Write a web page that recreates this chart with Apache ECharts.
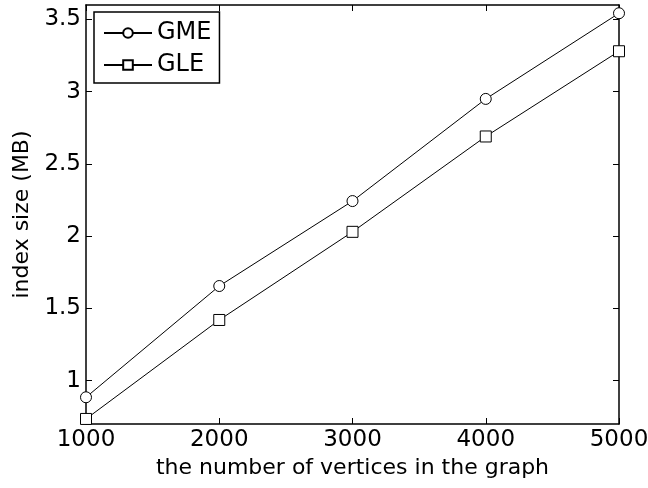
<!DOCTYPE html>
<html>
<head>
<meta charset="utf-8">
<script src="https://cdn.jsdelivr.net/npm/echarts@6/dist/echarts.min.js"></script>
<style>html,body{margin:0;padding:0;background:#fff}#c{width:648px;height:488px}</style>
</head>
<body>
<div id="c"></div>
<script>
var vertices = [1000, 2000, 3000, 4000, 5000];
var gme = [0.885, 1.655, 2.243, 2.95, 3.543];
var gle = [0.735, 1.42, 2.03, 2.69, 3.28];
var yTicks = [1, 1.5, 2, 2.5, 3, 3.5];
var xTicks = [1000, 2000, 3000, 4000, 5000];

var FONT = 'DejaVu Sans';
function pairs(xs, ys) { return xs.map(function (x, i) { return [x, ys[i]]; }); }

var axisLineStyle = { color: '#000', width: 1.5 };
var chart = echarts.init(document.getElementById('c'), null, { renderer: 'canvas' });
chart.setOption({
  animation: false,
  backgroundColor: '#fff',
  grid: { left: 86, right: 29, top: 5, bottom: 64, containLabel: false, outerBoundsMode: 'none' },
  legend: {
    orient: 'vertical', left: 94, top: 12,
    backgroundColor: '#fff', borderColor: '#000', borderWidth: 1.5,
    padding: [9, 8, 6, 9], itemGap: 8, itemWidth: 48, itemHeight: 12,
    textStyle: { fontFamily: FONT, fontSize: 24, color: '#000', lineHeight: 24 },
    data: ['GME', 'GLE']
  },
  xAxis: [{
    type: 'value', min: 1000, max: 5000, interval: 1000, position: 'bottom',
    name: 'the number of vertices in the graph', nameLocation: 'middle', nameGap: 31,
    nameTextStyle: { fontFamily: FONT, fontSize: 22, color: '#000' },
    axisLine: { show: true, lineStyle: axisLineStyle },
    axisTick: { show: true, inside: true, length: 6, lineStyle: { color: '#000' } },
    axisLabel: { fontFamily: FONT, fontSize: 23, color: '#000', margin: 5,
      formatter: function (v) { return String(v); } },
    splitLine: { show: false }
  }, {
    type: 'value', min: 1000, max: 5000, interval: 1000, position: 'top',
    axisLine: { show: true, lineStyle: axisLineStyle },
    axisTick: { show: true, inside: true, length: 6, lineStyle: { color: '#000' } },
    axisLabel: { show: false }, splitLine: { show: false }
  }],
  yAxis: [{
    type: 'value', min: 0.7, max: 3.6, position: 'left',
    name: 'index size (MB)', nameLocation: 'middle', nameGap: 50, nameRotate: 90,
    nameTextStyle: { fontFamily: FONT, fontSize: 22, color: '#000' },
    axisLine: { show: true, lineStyle: axisLineStyle },
    axisTick: { show: true, inside: true, length: 6, customValues: yTicks, lineStyle: { color: '#000' } },
    axisLabel: { fontFamily: FONT, fontSize: 23, color: '#000', margin: 5, customValues: yTicks,
      formatter: function (v) { return String(v); } },
    splitLine: { show: false }
  }, {
    type: 'value', min: 0.7, max: 3.6, position: 'right',
    axisLine: { show: true, lineStyle: axisLineStyle },
    axisTick: { show: true, inside: true, length: 6, customValues: yTicks, lineStyle: { color: '#000' } },
    axisLabel: { show: false }, splitLine: { show: false }
  }],
  series: [{
    name: 'GME', type: 'line', data: pairs(vertices, gme),
    symbol: 'circle', symbolSize: 11, showAllSymbol: true,
    lineStyle: { color: '#000', width: 1 },
    itemStyle: { color: '#fff', borderColor: '#000', borderWidth: 1 }
  }, {
    name: 'GLE', type: 'line', data: pairs(vertices, gle),
    symbol: 'rect', symbolSize: 11, showAllSymbol: true,
    lineStyle: { color: '#000', width: 1 },
    itemStyle: { color: '#fff', borderColor: '#000', borderWidth: 1 }
  }]
});
</script>
</body>
</html>
